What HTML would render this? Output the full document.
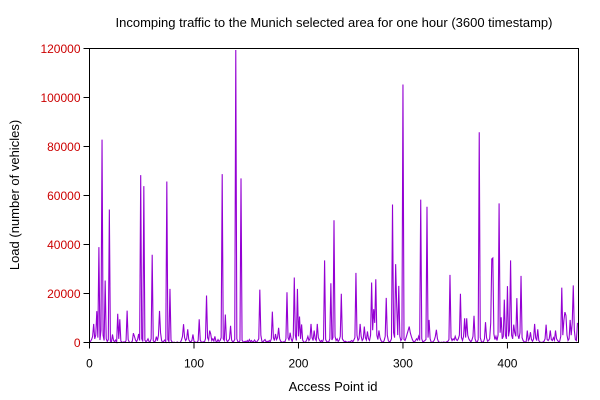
<!DOCTYPE html>
<html><head><meta charset="utf-8"><style>
body{margin:0;background:#fff;}
svg{display:block;font-family:"Liberation Sans",Arial,sans-serif;}
</style></head><body>
<svg id="chart" width="600" height="400">
<text x="334" y="27" font-size="13" text-anchor="middle">Incomping traffic to the Munich selected area for one hour (3600 timestamp)</text>
<text x="333" y="391" font-size="13" text-anchor="middle">Access Point id</text>
<text transform="translate(19,195) rotate(-90)" font-size="13" text-anchor="middle">Load (number of vehicles)</text>
<g id="axes"></g>
<path id="series" fill="none" stroke="#9400d3" stroke-width="1.1" stroke-linejoin="miter"></path>
<rect x="89.5" y="48.5" width="489" height="294" fill="none" stroke="#000"></rect>
</svg>
<script>
const yTicks=[0,20000,40000,60000,80000,100000,120000];
const xTicks=[0,100,200,300,400];
const loads=[
0,500,1200,2500,7600,1500,3000,12800,2000,38900,1000,5000,82800,3000,800,25300,1500,400,1200,54300,
500,200,3300,800,300,1000,200,11700,1500,9500,600,200,0,300,100,800,13000,1200,200,0,
0,600,3800,2500,1000,300,1200,3500,800,68300,1500,400,63800,1000,300,700,1500,400,200,1500,
35800,800,200,600,2400,700,3000,12900,4000,800,100,500,1000,300,65700,1200,400,21900,1000,200,
0,100,0,0,200,0,0,100,1000,2500,7500,2000,800,1500,5400,1200,400,300,800,3300,
500,200,100,0,800,9500,1000,200,100,300,200,1500,19200,2000,1000,4900,3500,800,1500,600,
2500,500,300,1200,400,800,2000,68700,1500,800,11400,1200,300,800,1500,6800,1000,300,500,1200,
119400,1500,300,200,800,67000,1000,300,200,500,100,800,200,1200,300,800,200,400,1000,300,
200,800,1500,21600,3000,500,200,800,1200,300,500,200,800,300,1500,12600,2000,800,3500,1200,
2000,6000,1500,500,200,100,300,200,1500,20500,2000,800,4000,1500,400,2000,26500,3000,800,21900,
2500,10600,1500,7400,1000,200,100,300,1200,2500,800,1500,7600,2000,800,4900,1500,800,7600,2000,
1000,300,800,200,1500,33500,1200,400,200,300,1500,24200,1000,2000,49900,2500,800,1500,400,1000,
2500,19900,1500,800,300,500,200,100,300,200,500,800,300,1000,2000,28400,3000,800,1500,7600,
2500,800,1500,6500,2000,1000,4500,1500,800,3000,24500,5000,13600,8000,25800,3000,1200,4900,2000,800,
300,100,800,2500,18200,3000,800,200,500,1500,56300,4000,2000,32000,15000,3000,23100,2500,800,1500,
105300,1200,800,2000,3500,5000,6500,4000,2500,1200,400,200,800,1500,1000,2500,800,58300,1500,200,
500,800,1200,55400,2000,9200,1500,200,100,400,1000,2500,5200,1500,300,100,0,100,0,200,
100,0,300,500,1200,27600,2000,800,1500,1000,2500,1200,800,1500,3000,19900,2000,800,2500,9900,
2000,9900,3000,1500,800,300,1000,2500,10900,1500,300,100,1200,85800,2000,500,100,300,1500,8300,
2000,500,800,1500,8000,34100,34500,3500,1200,2500,800,3000,56800,4000,10300,1500,2500,17500,3000,1500,
23000,2500,5000,33500,3000,1500,7300,4000,2500,18100,3000,1500,4000,27200,2000,800,300,100,500,4900,
800,1500,4200,1200,500,1500,7600,2000,800,5400,800,200,100,0,200,500,1500,7300,1200,800,
1500,4900,1200,800,2000,1000,4900,1500,800,300,500,2500,22400,3000,9000,12400,11000,3000,800,1500,9200,3000,8000,23300,5000,1200,800,8000
];
const X0=89.5,X1=578.5,Y0=342.5,Y1=48.5,XMAX=468,YMAX=120000;
const xs=v=>X0+(v/XMAX)*(X1-X0);
const ys=v=>Y0-(v/YMAX)*(Y0-Y1);
const NS="http://www.w3.org/2000/svg";
const axes=document.getElementById('axes');
yTicks.forEach(t=>{
  const l=document.createElementNS(NS,'line');
  
  
  l.setAttribute('x1',X0-6);l.setAttribute('x2',X0);l.setAttribute('y1',ys(t));l.setAttribute('y2',ys(t));l.setAttribute('stroke','#000');
  axes.appendChild(l);
  const tx=document.createElementNS(NS,'text');
  
  
  tx.setAttribute('x',X0-9);tx.setAttribute('y',ys(t)+4.5);tx.setAttribute('font-size','12');tx.setAttribute('text-anchor','end');tx.setAttribute('fill','#cc0000');
  tx.textContent=t;axes.appendChild(tx);
});
xTicks.forEach(t=>{
  const l=document.createElementNS(NS,'line');
  
  
  l.setAttribute('x1',xs(t));l.setAttribute('x2',xs(t));l.setAttribute('y1',Y0);l.setAttribute('y2',Y0+6);l.setAttribute('stroke','#000');
  axes.appendChild(l);
  const tx=document.createElementNS(NS,'text');
  
  
  tx.setAttribute('x',xs(t));tx.setAttribute('y',Y0+25);tx.setAttribute('font-size','12');tx.setAttribute('text-anchor','middle');
  tx.textContent=t;axes.appendChild(tx);
});
let d='';
loads.forEach((v,i)=>{d+=(i?'L':'M')+xs(i).toFixed(2)+','+ys(v).toFixed(2);});
document.getElementById('series').setAttribute('d',d);
</script>
</body></html>
